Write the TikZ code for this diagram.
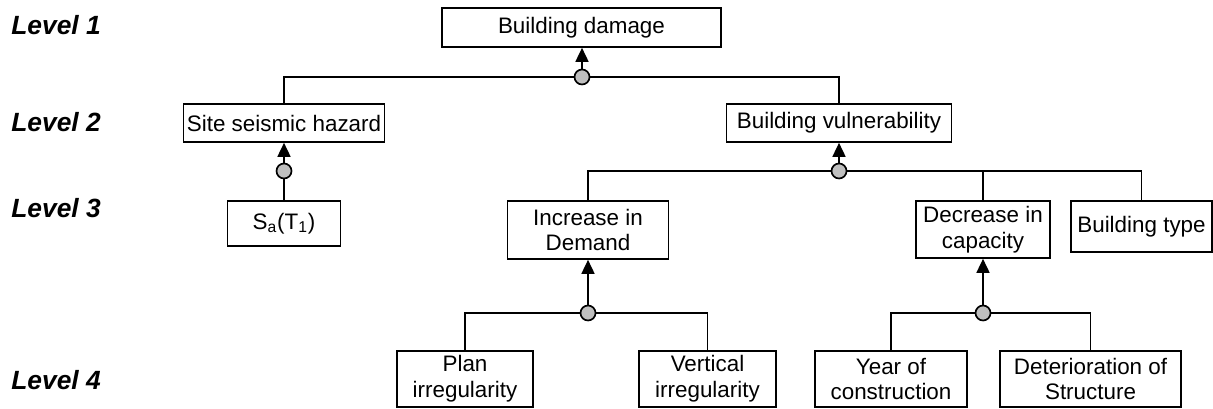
\documentclass[tikz,border=0pt]{standalone}
\usepackage{fontspec}
\setmainfont{Liberation Sans}
\usetikzlibrary{arrows.meta}

\begin{document}
\begin{tikzpicture}[
  lbox/.style={draw, line width=0.95pt, align=center, inner sep=0pt,
               font=\fontsize{12.75}{14.6}\selectfont},
  junc/.style={circle, draw, fill=black!25, line width=0.95pt, minimum size=0.3cm, inner sep=0pt},
  lvl/.style={anchor=west, inner sep=0pt, font=\fontsize{15}{18}\selectfont\bfseries\itshape},
  link/.style={line width=0.95pt},
  up/.style={line width=0.95pt, -{Triangle[width=0.26cm,length=0.28cm]}},
]
  \useasboundingbox (0,0) rectangle (24.26,-8.18);

  % Level labels
  \node[lvl] (l1) at (0.22,-0.5) {Level 1};
  \node[lvl] (l2) at (0.22,-2.44) {Level 2};
  \node[lvl] (l3) at (0.22,-4.16) {Level 3};
  \node[lvl] (l4) at (0.22,-7.6) {Level 4};

  % Level 1 and 2
  \node[lbox, minimum width=5.58cm, minimum height=0.78cm] (dmg) at (11.63,-0.55) {Building damage};
  \node[lbox, minimum width=4.02cm, minimum height=0.76cm] (haz) at (5.68,-2.46) {Site seismic hazard};
  \node[lbox, minimum width=4.5cm, minimum height=0.76cm] (vul) at (16.78,-2.46) {Building vulnerability};

  % Level 3
  \node[lbox, minimum width=2.26cm, minimum height=0.9cm] (sa) at (5.68,-4.47) {S\textsubscript{a}(T\textsubscript{1})};
  \node[lbox, minimum width=3.22cm, minimum height=1.16cm] (inc) at (11.76,-4.6) {Increase in\\Demand};
  \node[lbox, minimum width=2.68cm, minimum height=1.14cm] (dec) at (19.66,-4.59) {Decrease in\\capacity};
  \node[lbox, minimum width=2.82cm, minimum height=1.02cm] (typ) at (22.83,-4.53) {Building type};

  % Level 4
  \node[lbox, minimum width=2.72cm, minimum height=1.12cm] (pln) at (9.3,-7.58) {Plan\\irregularity};
  \node[lbox, minimum width=2.74cm, minimum height=1.12cm] (ver) at (14.15,-7.58) {Vertical\\irregularity};
  \node[lbox, minimum width=3.04cm, minimum height=1.12cm] (yr) at (17.82,-7.58) {Year of\\construction};
  \node[lbox, minimum width=3.62cm, minimum height=1.12cm] (det) at (21.81,-7.58) {Deterioration of\\Structure};

  % Junctions
  \node[junc] (j1) at (11.64,-1.54) {};
  \node[junc] (j2) at (5.68,-3.42) {};
  \node[junc] (j3) at (16.78,-3.42) {};
  \node[junc] (j4) at (11.76,-6.26) {};
  \node[junc] (j5) at (19.66,-6.26) {};

  % Arrows up to parents
  \foreach \j/\p in {j1/dmg, j2/haz, j3/vul, j4/inc, j5/dec} { \draw[up] (\j.north) -- (\j |- \p.south); }

  % Children to junctions
  \draw[link] (haz.north) |- (j1.west);
  \draw[link] (j1.east) -| (vul.north);
  \draw[link] (sa.north) -- (j2.south);
  \draw[link] (inc.north) |- (j3.west);
  \draw[link] (j3.east) -| (typ.north);
  \draw[link] (dec.north) -- (dec.north |- j3.east);
  \draw[link] (pln.north) |- (j4.west);
  \draw[link] (j4.east) -| (ver.north);
  \draw[link] (yr.north) |- (j5.west);
  \draw[link] (j5.east) -| (det.north);
\end{tikzpicture}
\end{document}
